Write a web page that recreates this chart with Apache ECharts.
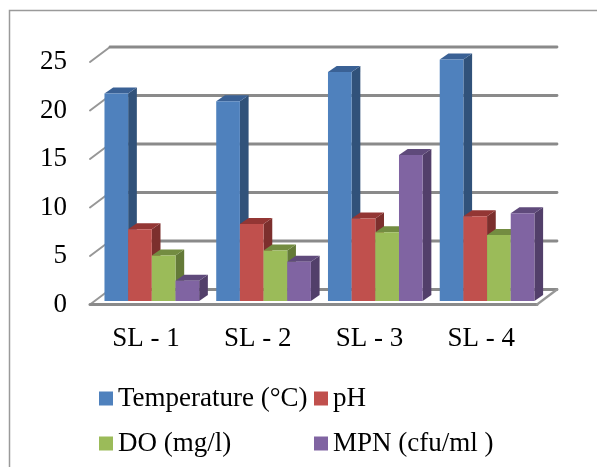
<!DOCTYPE html>
<html><head><meta charset="utf-8">
<style>html,body{margin:0;padding:0;background:#fff}#c{width:597px;height:467px}</style>
<script src="https://cdn.jsdelivr.net/npm/echarts@6/dist/echarts.min.js"></script>
</head><body><div id="c"></div>
<script>
const categories = ['SL - 1','SL - 2','SL - 3','SL - 4'];
const temperature = [21.4,20.6,23.6,24.9];
const ph = [7.4,7.95,8.5,8.75];
const dissolvedOxygen = [4.7,5.2,7.1,6.8];
const mpn = [2.1,4.05,15.05,9.05];
const yTicks = [0,5,10,15,20,25];

const FONT = '"Liberation Serif","Times New Roman",serif';
const GRID_COLOR = '#8a8a8a';
const DIAG_COLOR = '#979797';
const DEPTH_X = 20, DEPTH_Y = 15;          // wall depth
const BAR_W = 23.67, BAR_DX = 8.7, BAR_DY = 6;
const BAR_SHIFT = -41.4, BAR_LIFT = 3.5;

const chart = echarts.init(document.getElementById('c'), null, {renderer:'canvas'});

function wallItem(params, api){
  const cs = params.coordSys;
  const y = api.coord([0, api.value(1)])[1];
  const x0 = cs.x, x1 = cs.x + cs.width;
  const isZero = api.value(1) === 0;
  const children = [
    {type:'line', silent:true,
     shape:{x1:x0,y1:y,x2:x0+DEPTH_X,y2:y-DEPTH_Y},
     style:{stroke:DIAG_COLOR, lineWidth:2, lineCap:'round'}},
    {type:'line', silent:true,
     shape:{x1:x0+DEPTH_X,y1:y-DEPTH_Y,x2:x1+DEPTH_X,y2:y-DEPTH_Y},
     style:{stroke:GRID_COLOR, lineWidth:2.8, lineCap:'round'}}
  ];
  if(isZero){
    children.push(
      {type:'line', silent:true,
       shape:{x1:x0,y1:y,x2:x1,y2:y},
       style:{stroke:GRID_COLOR, lineWidth:3, lineCap:'round'}},
      {type:'line', silent:true,
       shape:{x1:x1,y1:y,x2:x1+DEPTH_X,y2:y-DEPTH_Y},
       style:{stroke:DIAG_COLOR, lineWidth:2.2, lineCap:'round'}}
    );
  }
  return {type:'group', children};
}

function barRenderer(seriesIdx, side, top){
  return function(params, api){
    const base = api.coord([api.value(0), 0]);
    const head = api.coord([api.value(0), api.value(1)]);
    const l = base[0] + BAR_SHIFT + seriesIdx*BAR_W, r = l + BAR_W;
    const b = base[1] - BAR_LIFT, t = head[1] - BAR_LIFT;
    return {type:'group', children:[
      {type:'polygon', shape:{points:[[r,b],[r+BAR_DX,b-BAR_DY],[r+BAR_DX,t-BAR_DY],[r,t]]}, style:{fill:side}},
      {type:'polygon', shape:{points:[[l,t],[r,t],[r+BAR_DX,t-BAR_DY],[l+BAR_DX,t-BAR_DY]]}, style:{fill:top}},
      {type:'rect', shape:{x:l,y:t,width:BAR_W,height:b-t}, style:{fill:api.visual('color')}}
    ]};
  };
}

const barSeries = [
  {name:'Temperature (°C)', values:temperature, color:'#4F81BD', side:'#31527A', top:'#3A6195'},
  {name:'pH', values:ph, color:'#C0504D', side:'#7C2F2D', top:'#933634'},
  {name:'DO (mg/l)', values:dissolvedOxygen, color:'#9BBB59', side:'#647A38', top:'#738C41'},
  {name:'MPN (cfu/ml )', values:mpn, color:'#8064A2', side:'#523F6A', top:'#5F4A7B'}
];

const legendBase = {
  orient:'vertical', top:385, padding:0, itemWidth:14, itemHeight:14, itemGap:18, icon:'rect',
  selectedMode:false, textStyle:{fontFamily:FONT, fontSize:27, color:'#000'}
};

chart.setOption({
  animation:false,
  backgroundColor:'#fff',
  grid:{left:90, top:62, width:447, height:242.5, containLabel:false},
  legend:[
    Object.assign({left:99, data:[barSeries[0].name, barSeries[2].name]}, legendBase),
    Object.assign({left:314, data:[barSeries[1].name, barSeries[3].name]}, legendBase)
  ],
  xAxis:{type:'category', data:categories, axisLine:{show:false}, axisTick:{show:false}, splitLine:{show:false},
    axisLabel:{fontFamily:FONT, fontSize:27, color:'#000', margin:21}},
  yAxis:{type:'value', min:0, max:25, interval:5, axisLine:{show:false}, axisTick:{show:false}, splitLine:{show:false},
    axisLabel:{fontFamily:FONT, fontSize:27, color:'#000', margin:23, padding:[2,0,0,0]}},
  graphic:[{type:'polyline', silent:true, z:-1,
    shape:{points:[[9.5,467],[9.5,10.5],[597,10.5]]},
    style:{stroke:'#9a9a9a', lineWidth:1.5, fill:null}}],
  series:[
    {type:'custom', name:'walls', silent:true, z:1, renderItem:wallItem,
      data:yTicks.map(t=>[0,t]), encode:{x:0,y:1}, tooltip:{show:false}},
    ...barSeries.map((s,i)=>({
      type:'custom', name:s.name, z:2+i, itemStyle:{color:s.color},
      renderItem:barRenderer(i,s.side,s.top),
      data:s.values.map((v,j)=>[j,v]), encode:{x:0,y:1}
    }))
  ]
});
</script></body></html>
